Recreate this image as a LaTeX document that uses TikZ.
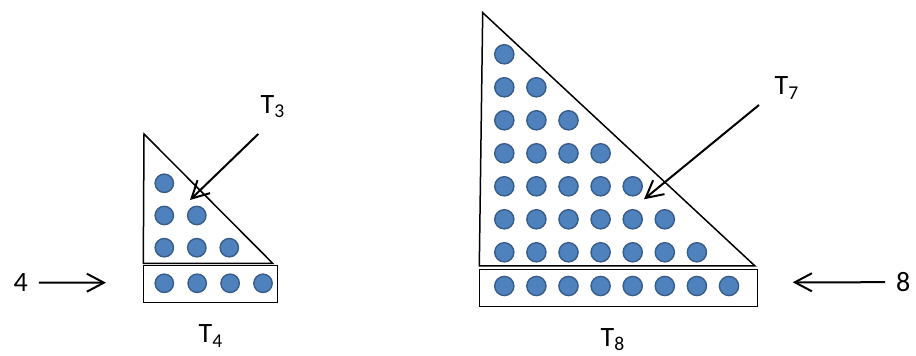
\documentclass[tikz,border=0pt]{standalone}
\usepackage{fontspec}
\setmainfont{Carlito}
\usetikzlibrary{arrows.meta}
\definecolor{beadfill}{RGB}{79,129,189}
\definecolor{beadrim}{RGB}{56,93,138}

\begin{document}
\begin{tikzpicture}[x=0.5pt, y=-0.5pt,
    bead/.style={fill=beadfill, draw=beadrim, line width=0.7pt},
    frame/.style={draw=black, line width=0.75pt, line join=miter},
    row/.style={draw=black, line width=0.5pt},
    pointer/.style={draw=black, line width=1pt, -{Straight Barb[length=8.5pt, width=9pt, line width=1pt]}},
    lbl/.style={font=\fontsize{14}{16}\selectfont, anchor=base}]
    \useasboundingbox (0,0) rectangle (916,356);

    % Small triangle T_4
    \draw[frame] (144,134) -- (143.3,263.3) -- (272.7,263.3) -- cycle;
    \draw[row] (143.3,266) rectangle (277.3,302.7);
    % Beads of T_3
    \foreach \r in {1,2,3} {
        \foreach \c in {1,...,\r} {
            \filldraw[bead] ({164.3+32.5*(\c-1)},{183.3+32.2*(\r-1)}) circle (4.6pt);
        }
    }
    % Bottom row of T_4
    \foreach \c in {1,...,4} {
        \filldraw[bead] ({164.3+32.9*(\c-1)},283.3) circle (4.6pt);
    }

    % Large triangle T_8
    \draw[frame] (482.7,12.7) -- (479.3,266) -- (755,266) -- cycle;
    \draw[row] (479.3,270) rectangle (757.3,306.7);
    % Beads of T_7
    \foreach \r in {1,...,7} {
        \foreach \c in {1,...,\r} {
            \filldraw[bead] ({504.3+32.1*(\c-1)},{54.3+33*(\r-1)}) circle (4.8pt);
        }
    }
    % Bottom row of T_8
    \foreach \c in {1,...,8} {
        \filldraw[bead] ({504.3+32.1*(\c-1)},286) circle (4.8pt);
    }

    % Labels
    \node[lbl] (four) at (20.7,291.7) {4};
    \node[lbl] (eight) at (903.3,291.7) {8};
    \node[lbl] (tthree) at (273,113.3) {T\textsubscript{3}};
    \node[lbl] (tseven) at (787,95) {T\textsubscript{7}};
    \node[lbl] (tfour) at (211,342.7) {T\textsubscript{4}};
    \node[lbl] (teight) at (613,346.5) {T\textsubscript{8}};

    % Arrows
    \coordinate (fourtip) at (106,282.7);
    \coordinate (eighttip) at (792.7,282.3);
    \coordinate (tthreetail) at (258.3,134);
    \coordinate (tthreetip) at (190,200);
    \coordinate (tseventail) at (759,105);
    \coordinate (tseventip) at (644,199.3);
    \draw[pointer, shorten <=2pt] (four.east) -- (fourtip);
    \draw[pointer, shorten <=2pt] (eight.west) -- (eighttip);
    \draw[pointer] (tthreetail) -- (tthreetip);
    \draw[pointer] (tseventail) -- (tseventip);
\end{tikzpicture}
\end{document}
